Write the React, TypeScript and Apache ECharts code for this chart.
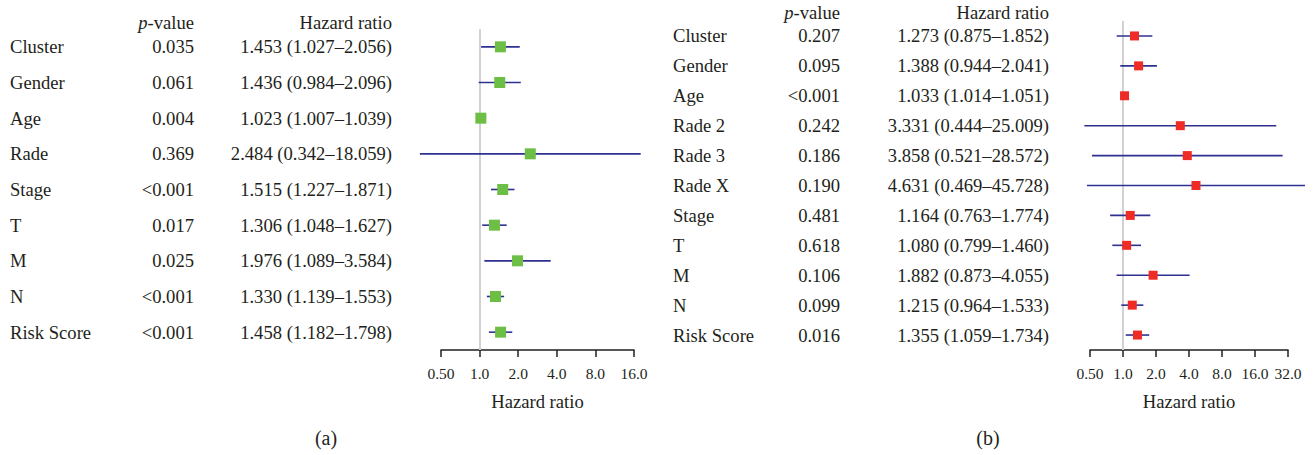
import React, { useEffect, useRef } from "react";
import * as echarts from "echarts";

// Panel (a)
const namesA = ["Cluster", "Gender", "Age", "Rade", "Stage", "T", "M", "N", "Risk Score"];
const pA = ["0.035", "0.061", "0.004", "0.369", "<0.001", "0.017", "0.025", "<0.001", "<0.001"];
const hrA = [1.453, 1.436, 1.023, 2.484, 1.515, 1.306, 1.976, 1.33, 1.458];
const loA = [1.027, 0.984, 1.007, 0.342, 1.227, 1.048, 1.089, 1.139, 1.182];
const hiA = [2.056, 2.096, 1.039, 18.059, 1.871, 1.627, 3.584, 1.553, 1.798];

// Panel (b)
const namesB = ["Cluster", "Gender", "Age", "Rade 2", "Rade 3", "Rade X", "Stage", "T", "M", "N", "Risk Score"];
const pB = ["0.207", "0.095", "<0.001", "0.242", "0.186", "0.190", "0.481", "0.618", "0.106", "0.099", "0.016"];
const hrB = [1.273, 1.388, 1.033, 3.331, 3.858, 4.631, 1.164, 1.08, 1.882, 1.215, 1.355];
const loB = [0.875, 0.944, 1.014, 0.444, 0.521, 0.469, 0.763, 0.799, 0.873, 0.964, 1.059];
const hiB = [1.852, 2.041, 1.051, 25.009, 28.572, 45.728, 1.774, 1.46, 4.055, 1.533, 1.734];

const ticksMaxA = 16;
const ticksMaxB = 32;
const ticksMin = 0.5;

const FONT = "'Liberation Serif', 'DejaVu Serif', serif";
const FS = 18.6;
const TXT = "#231f20";
const LINE = "#2e3192";
const GRAY = "#d2d2d2";

const hrText = (h: number, l: number, u: number) =>
  `${h.toFixed(3)} (${l.toFixed(3)}\u2013${u.toFixed(3)})`;

const fmtTick = (v: number) => (v < 1 ? v.toFixed(2) : v.toFixed(1));

function buildSeries(
  gridIdx: number,
  hr: number[],
  lo: number[],
  hi: number[],
  color: string,
  size: number
) {
  const data = hr.map((h, i) => [i, h, lo[i], hi[i]]);
  return {
    type: "custom",
    xAxisIndex: gridIdx,
    yAxisIndex: gridIdx * 3,
    z: 2,
    clip: false,
    encode: { x: [1, 2, 3], y: 0 },
    data,
    renderItem: (params: any, api: any) => {
      const idx = api.value(0);
      const pH = api.coord([api.value(1), idx]);
      const pL = api.coord([api.value(2), idx]);
      const pU = api.coord([api.value(3), idx]);
      return {
        type: "group",
        children: [
          {
            type: "line",
            shape: { x1: pL[0], y1: pL[1], x2: pU[0], y2: pU[1] },
            style: { stroke: LINE, lineWidth: 1.6 },
          },
          {
            type: "rect",
            shape: { x: pH[0] - size / 2, y: pH[1] - size / 2, width: size, height: size },
            style: { fill: color },
          },
        ],
      };
    },
    markLine: {
      z: 1,
      silent: true,
      symbol: "none",
      label: { show: false },
      lineStyle: { color: GRAY, width: 2, type: "solid" },
      data: [{ xAxis: 1 }],
    },
  };
}

function yAxes(gridIdx: number, names: string[], p: string[], hr: number[], lo: number[], hi: number[], mName: number, mP: number, mHr: number) {
  const base = {
    gridIndex: gridIdx,
    type: "category",
    data: names,
    inverse: true,
    position: "left",
    axisLine: { show: false },
    axisTick: { show: false },
    splitLine: { show: false },
  };
  const lbl = { interval: 0, fontSize: FS, fontFamily: FONT, color: TXT };
  return [
    { ...base, axisLabel: { ...lbl, align: "left", margin: mName } },
    { ...base, axisLabel: { ...lbl, align: "right", margin: mP, formatter: (_v: string, i: number) => p[i] } },
    {
      ...base,
      axisLabel: { ...lbl, align: "right", margin: mHr, formatter: (_v: string, i: number) => hrText(hr[i], lo[i], hi[i]) },
    },
  ];
}

function xAxis(gridIdx: number, max: number) {
  return {
    gridIndex: gridIdx,
    type: "log",
    logBase: 2,
    min: ticksMin,
    max,
    axisLine: { show: true, onZero: false, lineStyle: { color: TXT, width: 1.5 } },
    axisTick: { show: true, length: 7, lineStyle: { color: TXT, width: 1.5 } },
    splitLine: { show: false },
    minorTick: { show: false },
    axisLabel: { fontSize: 15.5, fontFamily: FONT, color: TXT, margin: 15, formatter: fmtTick },
    name: "Hazard ratio",
    nameLocation: "middle",
    nameGap: 42,
    nameTextStyle: { fontSize: FS, fontFamily: FONT, color: TXT },
  };
}

function headerText(x: number, y: number, text: string) {
  return {
    type: "text",
    x,
    y,
    style: {
      text,
      align: "right",
      verticalAlign: "middle",
      fontSize: FS,
      fontFamily: FONT,
      fill: TXT,
      rich: { i: { fontStyle: "italic", fontSize: FS, fontFamily: FONT, fill: TXT } },
    },
  };
}

function panelLabel(x: number, y: number, text: string) {
  return {
    type: "text",
    x,
    y,
    style: { text, align: "center", verticalAlign: "middle", fontSize: 20, fontFamily: FONT, fill: TXT },
  };
}

export default function App() {
  const ref = useRef<HTMLDivElement>(null);
  useEffect(() => {
    if (!ref.current) return;
    const chart = echarts.init(ref.current, null, { renderer: "svg" });
    chart.setOption({
      animation: false,
      backgroundColor: "#ffffff",
      grid: [
        { left: 441, top: 29, width: 193, height: 321 },
        { left: 1090, top: 21, width: 198, height: 329 },
      ],
      xAxis: [xAxis(0, ticksMaxA), xAxis(1, ticksMaxB)],
      yAxis: [
        ...yAxes(0, namesA, pA, hrA, loA, hiA, 431, 247, 49),
        ...yAxes(1, namesB, pB, hrB, loB, hiB, 417, 250, 41),
      ],
      series: [
        buildSeries(0, hrA, loA, hiA, "#6cbf44", 11),
        buildSeries(1, hrB, loB, hiB, "#ee2b24", 9),
      ],
      graphic: [
        headerText(194, 22, "{i|p}-value"),
        headerText(392, 22, "Hazard ratio"),
        headerText(840, 12, "{i|p}-value"),
        headerText(1049, 12, "Hazard ratio"),
        panelLabel(326, 438, "(a)"),
        panelLabel(988, 438, "(b)"),
      ],
    });
    return () => chart.dispose();
  }, []);
  return (
    <div
      ref={ref}
      style={{ position: "fixed", left: 0, top: 0, width: 1314, height: 455, background: "#fff" }}
    />
  );
}
